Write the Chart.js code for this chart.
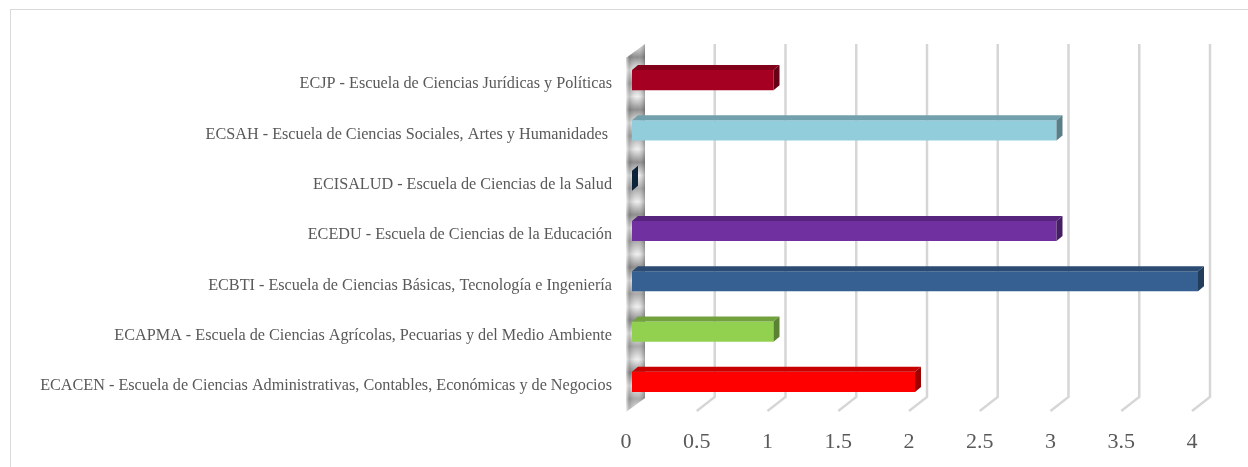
<!DOCTYPE html>
<html>
<head>
<meta charset="utf-8">
<script src="https://cdn.jsdelivr.net/npm/chart.js@4.4.1/dist/chart.umd.min.js"></script>
<style>
  html, body { margin: 0; padding: 0; background: #fff; overflow: hidden; }
  #wrap { position: relative; width: 1248px; height: 467px; }
  #frame { position: absolute; left: 10px; top: 9px; width: 1300px; height: 520px; border: 1px solid #d9d9d9; }
  canvas { position: absolute; left: 0; top: 0; }
</style>
</head>
<body>
<div id="wrap">
  <div id="frame"></div>
  <canvas id="chart" width="1248" height="467"></canvas>
</div>
<script>
const schools = [
  'ECJP - Escuela de Ciencias Jurídicas y Políticas',
  'ECSAH - Escuela de Ciencias Sociales, Artes y Humanidades ',
  'ECISALUD - Escuela de Ciencias de la Salud',
  'ECEDU - Escuela de Ciencias de la Educación',
  'ECBTI - Escuela de Ciencias Básicas, Tecnología e Ingeniería',
  'ECAPMA - Escuela de Ciencias Agrícolas, Pecuarias y del Medio Ambiente',
  'ECACEN - Escuela de Ciencias Administrativas, Contables, Económicas y de Negocios'
];
const counts = [1, 3, 0, 3, 4, 1, 2];
const barColors = ['#a50021', '#92cddc', '#17375e', '#7030a0', '#376092', '#92d050', '#ff0000'];
const xTicks = [0, 0.5, 1, 1.5, 2, 2.5, 3, 3.5, 4];

const textColor = '#595959';
const serif = "'Liberation Serif', 'Times New Roman', serif";

// darken a hex colour by factor f
function shade(hex, f) {
  const n = parseInt(hex.slice(1), 16);
  const r = Math.round(((n >> 16) & 255) * f);
  const g = Math.round(((n >> 8) & 255) * f);
  const b = Math.round((n & 255) * f);
  return `rgb(${r},${g},${b})`;
}

// fake 3D: back wall, receding gridlines, bar top and side faces
const depth3d = {
  id: 'depth3d',
  beforeDatasetsDraw(chart) {
    const { ctx, chartArea: a, scales: { x } } = chart;
    const x0 = x.getPixelForValue(0);
    const wTop = a.top - 11, wBot = a.bottom + 5;

    ctx.save();
    // wall
    ctx.beginPath();
    ctx.moveTo(x0 - 6, wTop + 14);
    ctx.lineTo(x0 + 13, wTop);
    ctx.lineTo(x0 + 13, wBot - 14);
    ctx.lineTo(x0 - 6, wBot);
    ctx.closePath();
    const band = ctx.createLinearGradient(0, wTop, 0, wBot);
    const shades = ['#eeeeee', '#808080', '#f4f4f4', '#a0a0a0'];
    const nStops = 28;
    for (let k = 0; k <= nStops; k++) band.addColorStop(k / nStops, shades[k % shades.length]);
    ctx.fillStyle = band;
    ctx.fill();
    const side = ctx.createLinearGradient(x0 - 6, 0, x0 + 13, 0);
    side.addColorStop(0, 'rgba(255,255,255,0.7)');
    side.addColorStop(0.2, 'rgba(120,120,120,0.35)');
    side.addColorStop(0.6, 'rgba(255,255,255,0.1)');
    side.addColorStop(1, 'rgba(90,90,90,0.5)');
    ctx.fillStyle = side;
    ctx.fill();

    // gridlines
    ctx.strokeStyle = '#d6d6d6';
    ctx.lineWidth = 2.5;
    x.ticks.forEach(t => {
      if (t.value === 0) return;
      const px = x.getPixelForValue(t.value);
      ctx.beginPath();
      ctx.moveTo(px + 12, a.top - 11);
      ctx.lineTo(px + 12, a.bottom - 10);
      ctx.lineTo(px - 6, a.bottom + 4);
      ctx.stroke();
    });
    ctx.restore();
  },
  afterDatasetsDraw(chart) {
    const { ctx } = chart;
    const dx = 6, dy = 5;
    chart.getDatasetMeta(0).data.forEach((bar, i) => {
      const { x, y, base, height } = bar.getProps(['x', 'y', 'base', 'height'], true);
      const top = y - height / 2, bot = y + height / 2;
      const c = barColors[i];
      ctx.save();
      ctx.fillStyle = shade(c, 0.78);
      ctx.beginPath();
      ctx.moveTo(base, top);
      ctx.lineTo(x, top);
      ctx.lineTo(x + dx, top - dy);
      ctx.lineTo(base + dx, top - dy);
      ctx.closePath();
      ctx.fill();
      ctx.fillStyle = shade(c, 0.62);
      ctx.beginPath();
      ctx.moveTo(x, top);
      ctx.lineTo(x + dx, top - dy);
      ctx.lineTo(x + dx, bot - dy);
      ctx.lineTo(x, bot);
      ctx.closePath();
      ctx.fill();
      ctx.restore();
    });
  }
};

new Chart(document.getElementById('chart'), {
  type: 'bar',
  data: {
    labels: schools,
    datasets: [{
      data: counts,
      backgroundColor: barColors,
      borderWidth: 0,
      barPercentage: 0.4,
      categoryPercentage: 1
    }]
  },
  plugins: [depth3d],
  options: {
    indexAxis: 'y',
    responsive: false,
    animation: false,
    layout: { padding: { left: 10, top: 55, right: 50, bottom: 0 } },
    plugins: { legend: { display: false }, tooltip: { enabled: false } },
    scales: {
      x: {
        min: 0,
        max: 4,
        afterBuildTicks: s => { s.ticks = xTicks.map(v => ({ value: v })); },
        afterFit: s => { s.height = 60; },
        grid: { display: false, drawTicks: false },
        border: { display: false },
        ticks: {
          color: textColor,
          font: { family: serif, size: 22 },
          padding: 22,
          labelOffset: -6,
          maxRotation: 0,
          callback: v => String(v)
        }
      },
      y: {
        afterFit: s => { s.width = 622; },
        grid: { display: false, drawTicks: false },
        border: { display: false },
        ticks: {
          color: textColor,
          font: { family: serif, size: 16.2 },
          padding: 20,
          labelOffset: 4
        }
      }
    }
  }
});
</script>
</body>
</html>
